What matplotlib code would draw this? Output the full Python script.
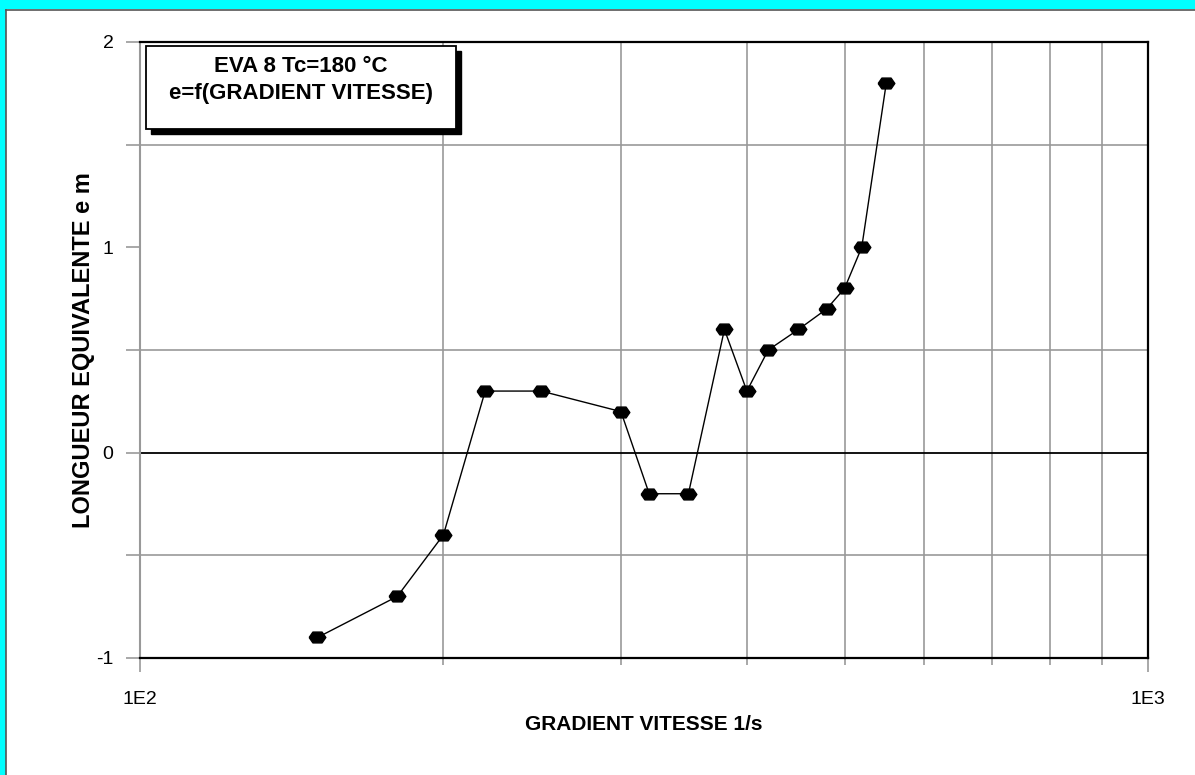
import matplotlib
matplotlib.use("Agg")
import matplotlib.pyplot as plt
from matplotlib.ticker import FixedLocator, NullFormatter
from matplotlib.patches import Rectangle

plt.rcParams["font.family"] = ["Liberation Sans", "DejaVu Sans"]
plt.rcParams["axes.unicode_minus"] = False

# Data
gradient = [150, 180, 200, 220, 250, 300, 320, 350, 380, 400, 420, 450, 480, 500, 520, 550]
longueur = [-0.9, -0.7, -0.4, 0.3, 0.3, 0.2, -0.2, -0.2, 0.6, 0.3, 0.5, 0.6, 0.7, 0.8, 1.0, 1.8]

y_major = [-1, 0, 1, 2]
y_minor = [-0.5, 0.5, 1.5]
x_major = [100, 1000]
x_major_labels = ["1E2", "1E3"]
x_minor = [200, 300, 400, 500, 600, 700, 800, 900]

fig = plt.figure(figsize=(11.95, 7.75), dpi=100)
fig.patch.set_facecolor("white")

# cyan window frame (top and left strips)
fig.patches.append(Rectangle((0, 1 - 9 / 775), 1, 9 / 775, transform=fig.transFigure,
                             facecolor="#00FFFF", edgecolor="none", zorder=0))
fig.patches.append(Rectangle((0, 0), 6 / 1195, 1, transform=fig.transFigure,
                             facecolor="#00FFFF", edgecolor="none", zorder=0))
fig.add_artist(plt.Line2D([6 / 1195, 1], [1 - 9.5 / 775] * 2, transform=fig.transFigure,
                          color="#555555", lw=1.2))
fig.add_artist(plt.Line2D([6.5 / 1195] * 2, [0, 1 - 9.5 / 775], transform=fig.transFigure,
                          color="#555555", lw=1.2))

ax = fig.add_axes([140 / 1195, 117 / 775, 1008 / 1195, 616 / 775])
ax.set_xscale("log")
ax.set_xlim(100, 1000)
ax.set_ylim(-1, 2)

ax.xaxis.set_major_locator(FixedLocator(x_major))
ax.set_xticklabels(x_major_labels)
ax.xaxis.set_minor_locator(FixedLocator(x_minor))
ax.xaxis.set_minor_formatter(NullFormatter())
ax.yaxis.set_major_locator(FixedLocator(y_major))
ax.yaxis.set_minor_locator(FixedLocator(y_minor))

ax.tick_params(axis="both", which="major", direction="out", length=8, width=1.2,
               color="#999999", labelsize=14)
ax.tick_params(axis="x", which="major", length=10, pad=14)
ax.tick_params(axis="y", which="major", length=10, pad=9)
ax.tick_params(axis="both", which="minor", direction="out", length=5, width=1.2,
               color="#999999")
ax.tick_params(axis="y", which="minor", length=10)

ax.grid(True, which="minor", color="#999999", linewidth=1.2)
ax.axhline(0, color="black", linewidth=1.3, zorder=1)
ax.set_axisbelow(True)

ax.spines["left"].set_color("#999999")
ax.spines["left"].set_linewidth(1.5)
for side in ["top", "right", "bottom"]:
    ax.spines[side].set_color("black")
    ax.spines[side].set_linewidth(1.6)

hexa = [(-1, 0), (-0.55, 0.65), (0.55, 0.65), (1, 0), (0.55, -0.65), (-0.55, -0.65), (-1, 0)]
ax.plot(gradient, longueur, color="black", linewidth=1.0, marker=hexa,
        markersize=12, markerfacecolor="black", markeredgecolor="black", zorder=3)

ax.set_xlabel("GRADIENT VITESSE 1/s", fontsize=15, fontweight="bold")
ax.set_ylabel("LONGUEUR EQUIVALENTE e m", fontsize=17, fontweight="bold")
ax.xaxis.set_label_coords(0.5, -0.092)
ax.yaxis.set_label_coords(-0.045, 0.5)

# title box with drop shadow
bx0, by0, bw, bh = 146 / 1195, 1 - 129 / 775, 310 / 1195, 83 / 775
fig.patches.append(Rectangle((bx0 + 5 / 1195, by0 - 5 / 775), bw, bh, transform=fig.transFigure,
                             facecolor="black", edgecolor="black", zorder=4))
fig.patches.append(Rectangle((bx0, by0), bw, bh, transform=fig.transFigure,
                             facecolor="white", edgecolor="black", linewidth=1.3, zorder=5))
fig.text(bx0 + bw / 2, 1 - 67 / 775, "EVA 8 Tc=180 °C", ha="center", va="center",
         fontsize=16, fontweight="bold", zorder=6)
fig.text(bx0 + bw / 2, 1 - 94 / 775, "e=f(GRADIENT VITESSE)", ha="center", va="center",
         fontsize=16, fontweight="bold", zorder=6)

fig.savefig("out.png", dpi=100)
